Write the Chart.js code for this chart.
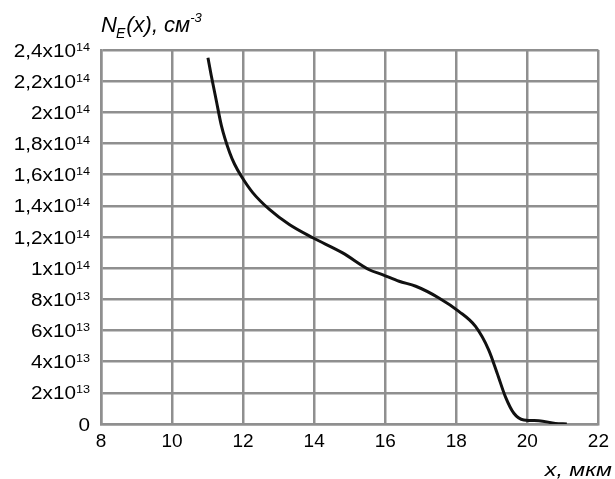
<!DOCTYPE html>
<html>
<head>
<meta charset="utf-8">
<script src="https://cdn.jsdelivr.net/npm/chart.js@4"></script>
<style>
  html, body { margin: 0; padding: 0; background: #fff; }
  #wrap { width: 615px; height: 479px; }
</style>
</head>
<body>
<div id="wrap"><canvas id="chart"></canvas></div>
<script>
// Curve: x in мкм, N_E in см^-3
const xValues = [11.01, 11.10, 11.25, 11.39, 11.62, 11.76, 11.95, 12.27, 12.74, 13.30, 13.96,
  14.80, 15.55, 15.92, 16.39, 16.86, 17.51, 18.07, 18.54, 18.91, 19.15,
  19.38, 19.62, 19.90, 20.32, 20.79, 21.11];
const nValues = [2.35e14, 2.24e14, 2.07e14, 1.913e14, 1.742e14, 1.667e14, 1.59e14, 1.485e14, 1.377e14, 1.28e14, 1.195e14,
  1.098e14, 0.99e14, 0.959e14, 0.916e14, 0.884e14, 0.809e14, 0.723e14, 0.626e14, 0.476e14, 0.326e14,
  0.176e14, 0.069e14, 0.026e14, 0.021e14, 0.004e14, 0];

// Tick labels (y: mantissa part and power of ten)
const xTickLabels = ['8', '10', '12', '14', '16', '18', '20', '22'];
const yTickMantissas = ['0', '2x10', '4x10', '6x10', '8x10', '1x10', '1,2x10',
  '1,4x10', '1,6x10', '1,8x10', '2x10', '2,2x10', '2,4x10'];
const yTickPowers = ['', '13', '13', '13', '13', '14', '14', '14', '14', '14', '14', '14', '14'];

const gridColor = '#8f8f8f';
const FONT = '"Liberation Sans", Arial, sans-serif';

// draw text squeezed/stretched horizontally, x is the left edge
function drawText(ctx, text, x, y, font, sx) {
  ctx.save();
  ctx.font = font;
  ctx.translate(x, y);
  ctx.scale(sx, 1);
  ctx.textAlign = 'left';
  ctx.fillText(text, 0, 0);
  const w = ctx.measureText(text).width * sx;
  ctx.restore();
  return w;
}

function textWidth(ctx, text, font, sx) {
  ctx.save();
  ctx.font = font;
  const w = ctx.measureText(text).width * sx;
  ctx.restore();
  return w;
}

// y tick labels with raised powers, title and x caption
const captions = {
  id: 'captions',
  afterDraw(chart) {
    const ctx = chart.ctx;
    const yScale = chart.scales.y;
    ctx.save();
    ctx.fillStyle = '#000';
    ctx.textBaseline = 'alphabetic';

    const mFont = '18px ' + FONT;
    const pFont = '11px ' + FONT;
    const sx = 1.15;
    yTickMantissas.forEach((m, i) => {
      const yy = yScale.getPixelForValue(i * 2e13);
      const p = yTickPowers[i];
      const pw = p ? textWidth(ctx, p, pFont, sx) : 0;
      const mw = textWidth(ctx, m, mFont, sx);
      const right = 90;
      const base = yy + 6.5;
      drawText(ctx, m, right - pw - mw, base, mFont, sx);
      if (p) drawText(ctx, p, right - pw, base - 6, pFont, sx);
    });

    // N_E(x), см^-3
    let x = 101, y = 32;
    x += drawText(ctx, 'N', x, y, 'italic 22px ' + FONT, 1);
    x += drawText(ctx, 'E', x - 1, y + 6, 'italic 14px ' + FONT, 1);
    x += drawText(ctx, '(x), см', x, y, 'italic 22px ' + FONT, 1);
    drawText(ctx, '-3', x, y - 10, 'italic 13px ' + FONT, 1);

    // x, мкм
    const cap = 'x, мкм';
    const cw = textWidth(ctx, cap, 'italic 19px ' + FONT, 1.22);
    drawText(ctx, cap, 612 - cw, 476, 'italic 19px ' + FONT, 1.22);
    ctx.restore();
  }
};

new Chart(document.getElementById('chart'), {
  type: 'line',
  data: {
    datasets: [{
      data: xValues.map((x, i) => ({ x: x, y: nValues[i] })),
      borderColor: '#111',
      borderWidth: 3,
      pointRadius: 0,
      cubicInterpolationMode: 'monotone',
      fill: false
    }]
  },
  options: {
    responsive: true,
    maintainAspectRatio: false,
    animation: false,
    layout: { padding: { left: 0, top: 50, right: 15, bottom: 0 } },
    plugins: {
      legend: { display: false },
      tooltip: { enabled: false }
    },
    scales: {
      x: {
        type: 'linear',
        min: 8,
        max: 22,
        afterBuildTicks: scale => {
          scale.ticks = xTickLabels.map(t => ({ value: Number(t) }));
        },
        afterFit: scale => { scale.height = 55; },
        ticks: {
          color: '#000',
          padding: 6,
          maxRotation: 0,
          font: { family: FONT, size: 19 },
          callback: v => String(v)
        },
        grid: { color: gridColor, lineWidth: 2.5, drawTicks: false },
        border: { color: gridColor, width: 2.5 }
      },
      y: {
        min: 0,
        max: 2.4e14,
        afterBuildTicks: scale => {
          scale.ticks = yTickMantissas.map((t, i) => ({ value: i * 2e13 }));
        },
        afterFit: scale => { scale.width = 101; },
        ticks: {
          // labels are painted by the captions plugin (raised powers)
          display: false
        },
        grid: { color: gridColor, lineWidth: 2.5, drawTicks: false },
        border: { color: gridColor, width: 2.5 }
      }
    }
  },
  plugins: [captions]
});
</script>
</body>
</html>
